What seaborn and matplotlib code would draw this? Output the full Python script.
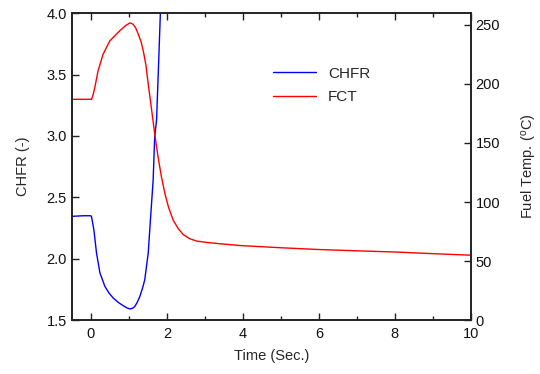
import numpy as np
import pandas as pd
import matplotlib
matplotlib.use('Agg')
import matplotlib.pyplot as plt
import seaborn as sns
from matplotlib.ticker import MultipleLocator, FormatStrFormatter

# CHFR (left axis)
chfr_t = [-0.5, -0.2, 0.0, 0.02, 0.08, 0.15, 0.24, 0.37, 0.48, 0.59, 0.72, 0.85, 0.95, 1.03,
          1.1, 1.16, 1.22, 1.29, 1.36, 1.42, 1.47, 1.51, 1.58, 1.64, 1.68, 1.73, 1.78, 1.83, 1.9]
chfr_v = [2.345, 2.35, 2.35, 2.34, 2.236, 2.046, 1.884, 1.775, 1.72, 1.68, 1.645, 1.618, 1.60, 1.591,
          1.597, 1.612, 1.645, 1.693, 1.76, 1.83, 1.95, 2.046, 2.37, 2.64, 2.99, 3.13, 3.56, 4.0, 4.6]

# Fuel centerline temperature (right axis)
fct_t = [-0.5, -0.2, 0.0, 0.02, 0.06, 0.105, 0.19, 0.32, 0.5, 0.76, 0.92, 1.03, 1.11, 1.18,
         1.25, 1.32, 1.38, 1.45, 1.51, 1.58, 1.64, 1.68, 1.77, 1.86, 1.95, 2.05, 2.17, 2.3,
         2.43, 2.6, 2.78, 3.05, 3.39, 3.92, 5.0, 6.0, 7.0, 8.0, 9.0, 10.0]
fct_v = [187, 187, 187, 187, 191, 197, 211, 225, 236.5, 245, 249.5, 251.7, 250.6, 247.5,
         242, 236, 228, 216, 200, 183, 168, 158, 138, 121, 107, 95, 84.5, 77.5,
         72.5, 69, 67, 65.8, 64.7, 63.2, 61.3, 59.8, 58.7, 57.7, 56.3, 55]

sns.set_style("ticks")
plt.rcParams['font.family'] = ['Liberation Sans', 'DejaVu Sans']
plt.rcParams['mathtext.fontset'] = 'custom'
plt.rcParams['mathtext.rm'] = 'Liberation Sans'
plt.rcParams['mathtext.it'] = 'Liberation Sans'

fig = plt.figure(figsize=(5.4, 3.74), dpi=100)
ax1 = fig.add_axes([0.133, 0.144, 0.739, 0.821])
ax2 = ax1.twinx()

sns.lineplot(x=chfr_t, y=chfr_v, ax=ax1, color='#0000ff', lw=1, label='CHFR', legend=False)
sns.lineplot(x=fct_t, y=fct_v, ax=ax2, color='#ff0000', lw=1, label='FCT', legend=False)

ax1.set_xlim(-0.5, 10)
ax1.set_ylim(1.5, 4.0)
ax2.set_ylim(0, 260)
ax1.xaxis.set_major_locator(MultipleLocator(2))
ax1.xaxis.set_minor_locator(MultipleLocator(1))
ax1.yaxis.set_major_locator(MultipleLocator(0.5))
ax2.yaxis.set_major_locator(MultipleLocator(50))
ax1.yaxis.set_major_formatter(FormatStrFormatter('%.1f'))

tick_kw = dict(direction='in', color='#222222', width=1.0, labelsize=10.5, labelcolor='#111111')
ax1.tick_params(axis='x', which='both', top=True, pad=5, **tick_kw)
ax1.tick_params(axis='x', which='major', length=5)
ax1.tick_params(axis='x', which='minor', length=3)
ax1.tick_params(axis='y', length=5, **tick_kw)
ax2.tick_params(axis='y', length=5, **tick_kw)

for ax in (ax1, ax2):
    for s in ax.spines.values():
        s.set_visible(True)
        s.set_linewidth(1.2)
        s.set_color('#222222')

ax1.set_xlabel('Time (Sec.)', fontsize=10.5, labelpad=6)
ax1.set_ylabel('CHFR (-)', fontsize=10.5, labelpad=12)
ax2.set_ylabel('Fuel Temp. ($^{o}$C)', fontsize=10.5, labelpad=14)

h1, l1 = ax1.get_legend_handles_labels()
h2, l2 = ax2.get_legend_handles_labels()
ax2.legend(h1 + h2, l1 + l2, loc='upper left', bbox_to_anchor=(0.47, 0.87), frameon=False,
           fontsize=11, handlelength=2.8, labelspacing=0.6)

fig.savefig('out.png', dpi=100)
